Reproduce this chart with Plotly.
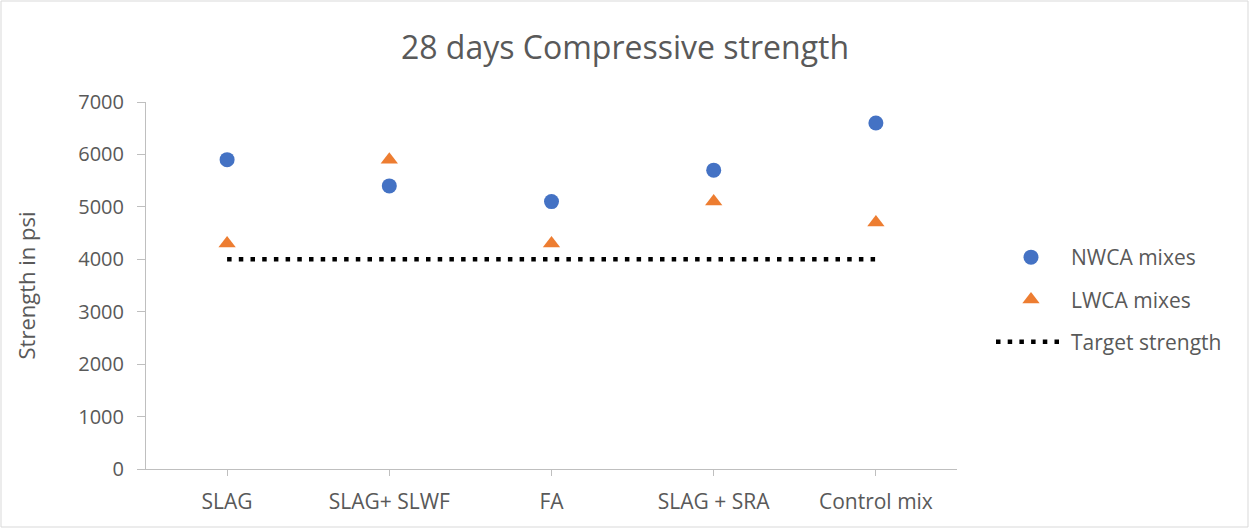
import plotly.graph_objects as go

categories = ["SLAG", "SLAG+ SLWF", "FA", "SLAG + SRA", "Control mix"]
nwca = [5900, 5400, 5100, 5700, 6600]
lwca = [4300, 5900, 4300, 5100, 4700]
target = [4000, 4000, 4000, 4000, 4000]
y_ticks = [0, 1000, 2000, 3000, 4000, 5000, 6000, 7000]

xpos = list(range(1, len(categories) + 1))
FONT = "Open Sans"
GRAY = "#595959"

fig = go.Figure()
fig.add_trace(go.Scatter(
    x=xpos, y=nwca, mode="markers", name="NWCA mixes", legendgroup="a",
    marker=dict(symbol="circle", size=15, color="#4472C4"),
))
fig.add_trace(go.Scatter(
    x=xpos, y=lwca, mode="markers", name="LWCA mixes", legendgroup="b",
    marker=dict(symbol="triangle-up", size=15, color="#ED7D31"),
))
fig.add_trace(go.Scatter(
    x=xpos, y=target, mode="lines", name="Target strength", legendgroup="c",
    line=dict(color="black", width=4.5, dash="4.5px,7.2px"),
))

L, R, T, B = 146, 957, 102, 469
W, H = 1250, 529
pw, ph = R - L, B - T

fig.update_layout(
    width=W, height=H,
    margin=dict(l=L, r=W - R, t=T, b=H - B),
    paper_bgcolor="white", plot_bgcolor="white",
    font=dict(family=FONT, color=GRAY, size=20),
    title=dict(text="28 days Compressive strength", x=0.5, xref="container",
               y=1 - 48 / H, yref="container", yanchor="middle", xanchor="center",
               font=dict(size=32, color=GRAY, family=FONT)),
    xaxis=dict(range=[0.5, 5.5], tickvals=xpos, ticktext=categories,
               showgrid=False, zeroline=False, showline=True,
               linecolor="#BFBFBF", linewidth=1, ticks="outside",
               ticklen=6, tickcolor="#BFBFBF", tickfont=dict(size=21, color=GRAY),
               ticklabelstandoff=8, fixedrange=True),
    yaxis=dict(range=[0, 7000], tickvals=y_ticks, showgrid=False,
               zeroline=False, showline=True, linecolor="#BFBFBF",
               linewidth=1, ticks="outside", ticklen=8, tickcolor="#BFBFBF",
               tickfont=dict(size=20, color=GRAY), ticklabelstandoff=9,
               title=dict(text="Strength in psi", font=dict(size=22, color=GRAY),
                          standoff=36),
               fixedrange=True),
    legend=dict(x=(991 - L) / pw, y=(B - 237) / ph, xanchor="left", yanchor="top",
                traceorder="grouped", tracegroupgap=12, itemwidth=70,
                font=dict(size=21, color=GRAY), bgcolor="rgba(0,0,0,0)"),
    showlegend=True,
)

fig.add_shape(type="rect", xref="paper", yref="paper",
              x0=(1 - L) / pw, x1=(W - 2 - L) / pw,
              y0=(B - (H - 2)) / ph, y1=(B - 1) / ph,
              line=dict(color="#D9D9D9", width=1), fillcolor="rgba(0,0,0,0)",
              layer="below")

fig.write_html("out.html", config={"displayModeBar": False},
               post_script="document.body.style.margin='0';")
